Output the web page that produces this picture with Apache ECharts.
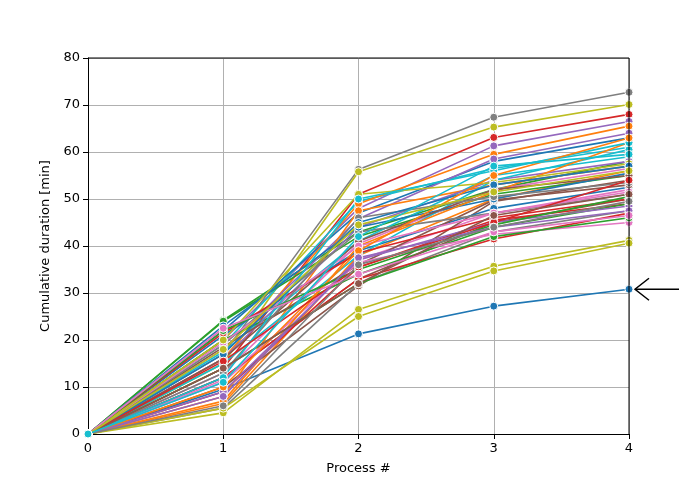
<!DOCTYPE html>
<html><head><meta charset="utf-8">
<script src="https://cdn.jsdelivr.net/npm/echarts@6/dist/echarts.min.js"></script>
<style>html,body{margin:0;padding:0;background:#fff}#main{width:699px;height:488px}</style>
</head><body><div id="main"></div>
<script>
var processes = [0, 1, 2, 3, 4];
var palette = ['#1f77b4','#ff7f0e','#2ca02c','#d62728','#9467bd','#8c564b','#e377c2','#7f7f7f','#bcbd22','#17becf'];
// cumulative duration per run at process 1..4 (process 0 is always 0)
var durations = [
  [9.5,21.3,27.2,30.8],[6.5,38,50,56],[24.2,43,52,58],[14,51,63.1,68],[20,48,61.3,66.5],
  [12,33,45,50],[11,37,47,52],[17,56.3,67.4,72.7],[15,55.8,65.3,70.1],[19,49.5,56.5,61],
  [22,47,58,63],[16,49,59.5,65.5],[24,42,51,55],[9,35.5,45.5,49],[18,45.8,58.5,64],
  [10,31.5,49.5,54],[13,40.5,52,56.5],[5.5,32,43,47.5],[4.5,26.5,35.7,41.2],[17.5,41,55,59],
  [21,39,48,52.5],[8,47.5,53,57],[20,34,44,49],[12,33,41.5,47],[16,44,54,58],
  [18.5,36,49.8,53],[11.5,36.5,42.5,45],[19,43,47,51],[5.5,25,34.7,40.6],[15,38,54,60.5],
  [23,44,50,55.5],[7,40,51.5,62],[14,32,42,46],[21.5,38.5,46,50],[9,37,45,48.5],
  [16,41,52,55],[19.5,40,47,51.5],[13,46,50.5,53.5],[20,51,53.5,57.5],[12,50,56,62],
  [17,45,53,57],[10,39,55,63],[22,35,44.5,50.5],[15.5,35.5,45,54],[8,37.5,44,47.5],
  [14,32,46.5,51],[22.5,34,43,46.5],[6,36,44,49.5],[18,44.5,51.5,56],[11,42,57,59.5]
];
var arrowTarget = [4, 30.8];

var chart = echarts.init(document.getElementById('main'));
var series = durations.map(function (d, i) {
  var vals = [0].concat(d);
  return {
    type: 'line',
    data: processes.map(function (p, j) { return [p, vals[j]]; }),
    symbol: 'circle', symbolSize: 8,
    lineStyle: { width: 1.6, color: palette[i % 10] },
    itemStyle: { color: palette[i % 10], borderColor: '#fff', borderWidth: 1 },
    emphasis: { disabled: true }, animation: false
  };
});
var axisText = { color: '#000', fontSize: 13, fontFamily: 'DejaVu Sans' };
chart.setOption({
  animation: false,
  grid: { left: 88, right: 70, top: 58, bottom: 54 },
  xAxis: {
    type: 'value', min: 0, max: 4, interval: 1,
    name: 'Process #', nameLocation: 'middle', nameGap: 28, nameTextStyle: axisText,
    axisLine: { lineStyle: { color: '#000' } }, axisTick: { lineStyle: { color: '#000' } },
    axisLabel: axisText, splitLine: { show: true, lineStyle: { color: '#b0b0b0' } }
  },
  yAxis: {
    type: 'value', min: 0, max: 80, interval: 10,
    name: 'Cumulative duration [min]', nameLocation: 'middle', nameGap: 34, nameTextStyle: axisText,
    axisLine: { show: true, lineStyle: { color: '#000' } }, axisTick: { show: true, lineStyle: { color: '#000' } },
    axisLabel: axisText, splitLine: { show: true, lineStyle: { color: '#b0b0b0' } }
  },
  series: series
});
// frame on top/right like matplotlib
var tl = chart.convertToPixel({ gridIndex: 0 }, [0, 80]);
var br = chart.convertToPixel({ gridIndex: 0 }, [4, 0]);
var p = chart.convertToPixel({ gridIndex: 0 }, arrowTarget);
chart.setOption({
  graphic: [
    { type: 'polyline', shape: { points: [[tl[0], tl[1]], [br[0], tl[1]], [br[0], br[1]]] }, style: { stroke: '#000', lineWidth: 1, fill: null }, z: 100 },
    { type: 'line', shape: { x1: p[0] + 6, y1: p[1], x2: p[0] + 50, y2: p[1] }, style: { stroke: '#000', lineWidth: 1.5 }, z: 100 },
    { type: 'polyline', shape: { points: [[p[0] + 20, p[1] - 11], [p[0] + 6, p[1]], [p[0] + 20, p[1] + 11]] }, style: { stroke: '#000', lineWidth: 1.5, fill: null }, z: 100 }
  ]
});
window.addEventListener('resize', chart.resize);
</script></body></html>
